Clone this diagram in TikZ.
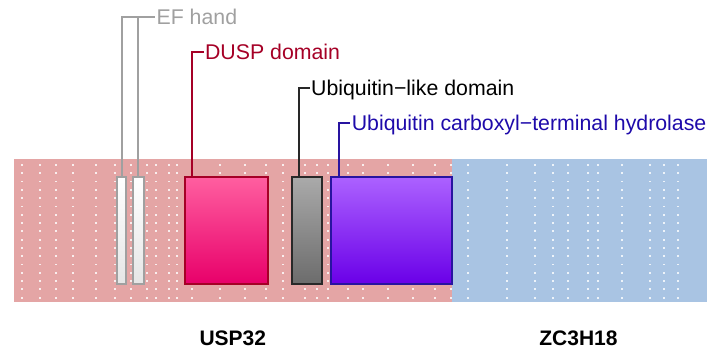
\documentclass[tikz,border=0pt]{standalone}
\usepackage{fontspec}
\setmainfont{Liberation Sans}
\begin{document}
\begin{tikzpicture}[x=1pt,y=-1pt,
  lab/.style={font=\fontsize{21.3}{25}\selectfont, inner sep=0pt, outer sep=0pt, anchor=west, text height=15pt, text depth=0pt},
  dom/.style={draw, line width=1.8pt, inner sep=0pt, outer sep=0pt, anchor=north west, minimum height=107pt},
  lead/.style={line width=2pt, shorten >=1.5pt},
  band/.style={inner sep=0pt, outer sep=0pt, anchor=north west, minimum height=142.7pt},
  dotc/.style={fill=white, fill opacity=0.8},
  gene/.style={font=\fontsize{21}{25}\selectfont\bfseries, inner sep=0pt, anchor=base}]
\definecolor{pinkband}{RGB}{228,165,165}
\definecolor{blueband}{RGB}{169,196,227}
\definecolor{eftxt}{RGB}{160,160,160}
\definecolor{duspt}{RGB}{255,95,160}
\definecolor{duspb}{RGB}{232,0,106}
\definecolor{duspd}{RGB}{165,0,38}
\definecolor{ublt}{RGB}{170,170,170}
\definecolor{ublb}{RGB}{108,108,108}
\definecolor{ubld}{RGB}{40,40,40}
\definecolor{ucht}{RGB}{172,98,255}
\definecolor{uchb}{RGB}{106,0,232}
\definecolor{uchd}{RGB}{40,20,160}
\definecolor{uchtxt}{RGB}{30,10,170}
\useasboundingbox (0,0) rectangle (710,351);
% bands
\node[band, fill=pinkband, minimum width=438pt] (pinkb) at (14,159) {};
\node[band, fill=blueband, minimum width=255.3pt] (blueb) at (452,159) {};
% dots
\foreach \xx in {22.3,40.3,56,72.7,96,115,130.7,147,156,168.7,177.3,192,220,245.3,265.7,282.7,305,316.7,327.7,347.7,362.7,387.7,413,435,451,468.3,506.7,535,552.7,567.7,588.3,597.7,621.7,650,664,678.3}{
  \foreach \k in {0,...,16}{
    \fill[dotc] (\xx-0.9,165+8.29*\k-0.9) rectangle ++(1.8,1.8);
  }
}
% domains
\node[dom, draw=eftxt, top color=white, bottom color=white!90!black, minimum width=8.4pt] (ef1) at (117.3,176.7) {};
\node[dom, draw=eftxt, top color=white, bottom color=white!90!black, minimum width=11pt] (ef2) at (132.7,176.7) {};
\node[dom, draw=duspd, top color=duspt, bottom color=duspb, minimum width=83.6pt] (dusp) at (184.7,176.7) {};
\node[dom, draw=ubld, top color=ublt, bottom color=ublb, minimum width=30.3pt] (ubl) at (291.7,176.7) {};
\node[dom, draw=uchd, top color=ucht, bottom color=uchb, minimum width=120.5pt] (uch) at (331.3,176.7) {};
% labels
\node[lab, text=eftxt] (efl) at (156.6,17.3) {EF hand};
\node[lab, text=duspd] (duspl) at (205.1,52.3) {DUSP domain};
\node[lab, text=black] (ubll) at (311.2,88.3) {Ubiquitin−like domain};
\node[lab, text=uchtxt] (uchl) at (351.8,123.3) {Ubiquitin carboxyl−terminal hydrolase};
% leaders
\draw[lead, draw=eftxt] (ef1.north) |- (efl.west);
\draw[lead, draw=eftxt] (ef2.north) |- (efl.west);
\draw[lead, draw=duspd] ([xshift=7.6pt]dusp.north west) |- (duspl.west);
\draw[lead, draw=ubld] ([xshift=7pt]ubl.north west) |- (ubll.west);
\draw[lead, draw=uchd] ([xshift=7.2pt]uch.north west) |- (uchl.west);
% gene names
\node[gene] (usp) at (232.8,345) {USP32};
\node[gene] (zc) at (578.5,345) {ZC3H18};
\end{tikzpicture}
\end{document}
